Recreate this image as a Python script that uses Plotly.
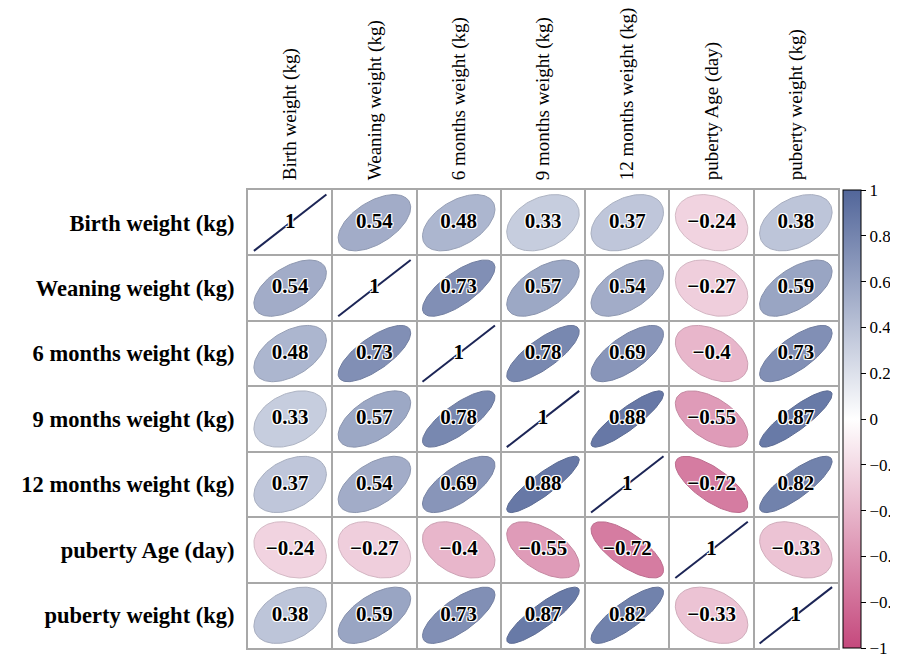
import numpy as np
import plotly.graph_objects as go

labels = ["Birth weight (kg)", "Weaning weight (kg)", "6 months weight (kg)",
          "9 months weight (kg)", "12 months weight (kg)", "puberty Age (day)",
          "puberty weight (kg)"]

corr = [
    [1.00, 0.54, 0.48, 0.33, 0.37, -0.24, 0.38],
    [0.54, 1.00, 0.73, 0.57, 0.54, -0.27, 0.59],
    [0.48, 0.73, 1.00, 0.78, 0.69, -0.40, 0.73],
    [0.33, 0.57, 0.78, 1.00, 0.88, -0.55, 0.87],
    [0.37, 0.54, 0.69, 0.88, 1.00, -0.72, 0.82],
    [-0.24, -0.27, -0.40, -0.55, -0.72, 1.00, -0.33],
    [0.38, 0.59, 0.73, 0.87, 0.82, -0.33, 1.00],
]

cbar_ticks = [1, 0.8, 0.6, 0.4, 0.2, 0, -0.2, -0.4, -0.6, -0.8, -1]

NEG = np.array([197, 73, 125])
MID = np.array([255, 255, 255])
POS = np.array([82, 102, 154])
colorscale = [[0, "rgb(197,73,125)"], [0.5, "rgb(255,255,255)"], [1, "rgb(82,102,154)"]]


def col_for(r, dark=1.0):
    if r >= 0:
        c = MID + (POS - MID) * r
    else:
        c = MID + (NEG - MID) * (-r)
    c = c * dark
    return "rgb(%d,%d,%d)" % tuple(int(round(v)) for v in c)


fig = go.Figure()
n = len(labels)
t = np.linspace(0, 2 * np.pi, 120)
S = 0.43
for i in range(n):
    for j in range(n):
        r = corr[i][j]
        if i == j:
            fig.add_trace(go.Scatter(
                x=[j - S, j + S], y=[i + S, i - S], mode="lines",
                line=dict(color="#1c2556", width=2), hoverinfo="skip", showlegend=False))
        else:
            d = np.arccos(r)
            ex = np.cos(t + d / 2)
            ey = np.cos(t - d / 2)
            fig.add_trace(go.Scatter(
                x=j + S * ex, y=i - S * ey, mode="lines", fill="toself",
                fillcolor=col_for(r), line=dict(color=col_for(r, 0.88), width=1),
                hoverinfo="skip", showlegend=False))

# numbers
xs, ys, txt = [], [], []
for i in range(n):
    for j in range(n):
        xs.append(j)
        ys.append(i)
        v = corr[i][j]
        txt.append("1" if v == 1 else ("%g" % v).replace("-", "\u2212"))
fig.add_trace(go.Scatter(
    x=xs, y=ys, mode="text", text=txt,
    textfont=dict(family="Liberation Serif", size=21, color="black", weight="bold",
                  shadow="1px 1px 0 #fff, -1px -1px 0 #fff, 1px -1px 0 #fff, -1px 1px 0 #fff, 0 0 2px #fff"),
    hoverinfo="skip", showlegend=False))

# colorbar
fig.add_trace(go.Scatter(
    x=[0, 0], y=[0, 0], mode="markers",
    marker=dict(size=0.1, opacity=0, color=[-1, 1], cmin=-1, cmax=1,
                colorscale=colorscale, showscale=True,
                colorbar=dict(x=1.008, xanchor="left", y=0.5, yanchor="middle",
                              len=1, lenmode="fraction", thickness=18,
                              xpad=0, ypad=0, outlinewidth=1, outlinecolor="black",
                              tickvals=cbar_ticks,
                              ticktext=[("%g" % v).replace("-", "\u2212") for v in cbar_ticks],
                              ticks="outside", ticklen=5, tickcolor="black",
                              tickfont=dict(family="Liberation Serif", size=17, color="black"))),
    hoverinfo="skip", showlegend=False))

fig.update_layout(
    width=898, height=654,
    margin=dict(l=240, r=68, t=182, b=14, autoexpand=False),
    plot_bgcolor="white", paper_bgcolor="white",
    xaxis=dict(range=[-0.5, n - 0.5], side="top", tickvals=list(range(n)), ticktext=labels,
               tickangle=-90, showgrid=False, zeroline=False, automargin=False,
               showline=True, mirror=True, linecolor="#a8a8a8", linewidth=2,
               ticks="", ticklabelstandoff=4,
               tickfont=dict(family="Liberation Serif", size=19, color="black"),
               minor=dict(tick0=0.5, dtick=1, showgrid=True, gridcolor="#a8a8a8", gridwidth=2)),
    yaxis=dict(range=[n - 0.5, -0.5], tickvals=list(range(n)), ticktext=labels,
               showgrid=False, zeroline=False, automargin=False,
               showline=True, mirror=True, linecolor="#a8a8a8", linewidth=2,
               ticks="", ticklabelstandoff=7,
               tickfont=dict(family="Liberation Serif", size=22.5, color="black", weight="bold"),
               minor=dict(tick0=0.5, dtick=1, showgrid=True, gridcolor="#a8a8a8", gridwidth=2)),
)

fig.write_html("out.html")
